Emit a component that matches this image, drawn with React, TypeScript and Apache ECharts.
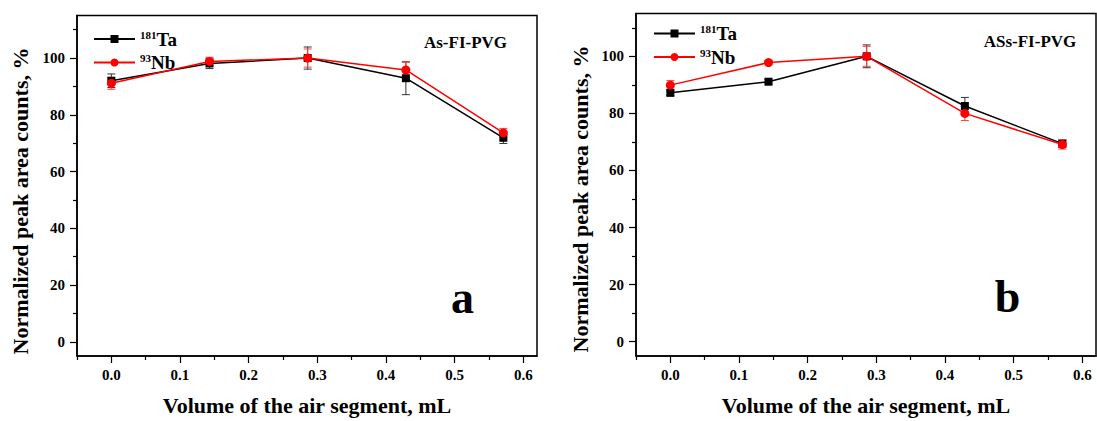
import React, { useEffect, useRef } from "react";
import * as echarts from "echarts";

// ---- data ----
const volumes = [0, 0.143, 0.286, 0.429, 0.571];

const taA = [92.0, 98.1, 100, 92.9, 71.9];
const taAErr = [2.4, 1.8, 3.9, 5.8, 2.0];
const nbA = [91.1, 98.8, 100, 95.8, 73.6];
const nbAErr = [2.1, 1.5, 3.2, 2.7, 1.6];

const taB = [87.2, 91.1, 100, 82.6, 69.4];
const taBErr = [1.0, 0.8, 4.0, 3.0, 1.2];
const nbB = [89.9, 97.8, 100, 80.0, 69.1];
const nbBErr = [1.6, 0.8, 3.5, 2.5, 1.6];

const xMajorTicks = [0, 0.1, 0.2, 0.3, 0.4, 0.5, 0.6];
const xMinorTicks = [-0.05, 0.05, 0.15, 0.25, 0.35, 0.45, 0.55];
const yMajorTicks = [0, 20, 40, 60, 80, 100];
const yMinorTicks = [10, 30, 50, 70, 90, 110];

const panelTitles = ["As-FI-PVG", "ASs-FI-PVG"];
const panelLetters = ["a", "b"];
const xName = "Volume of the air segment, mL";
const yName = "Normalized peak area counts, %";

const FONT = '"Liberation Serif", "Times New Roman", serif';

function errorSeries(name: string, ys: number[], errs: number[], color: string, ai: number) {
  return {
    type: "custom",
    name,
    xAxisIndex: ai,
    yAxisIndex: ai,
    silent: true,
    data: volumes.map((v, i) => [v, ys[i] - errs[i], ys[i] + errs[i]]),
    encode: { x: 0, y: [1, 2] },
    renderItem: (params: any, api: any) => {
      const x = api.value(0);
      const p1 = api.coord([x, api.value(2)]);
      const p2 = api.coord([x, api.value(1)]);
      const hw = 4;
      const style = { stroke: color, lineWidth: 1, fill: "none" };
      return {
        type: "group",
        children: [
          { type: "line", shape: { x1: p1[0], y1: p1[1], x2: p2[0], y2: p2[1] }, style },
          { type: "line", shape: { x1: p1[0] - hw, y1: p1[1], x2: p1[0] + hw, y2: p1[1] }, style },
          { type: "line", shape: { x1: p2[0] - hw, y1: p2[1], x2: p2[0] + hw, y2: p2[1] }, style },
        ],
      };
    },
  };
}

function lineSeries(name: string, ys: number[], color: string, symbol: string, size: number, ai: number) {
  return {
    type: "line",
    name,
    xAxisIndex: ai,
    yAxisIndex: ai,
    data: volumes.map((v, i) => [v, ys[i]]),
    symbol,
    symbolSize: size,
    itemStyle: { color },
    lineStyle: { color, width: 1.5 },
  };
}

export default function App() {
  const ref = useRef<HTMLDivElement>(null);

  useEffect(() => {
    document.body.style.margin = "0";
    if (!ref.current) return;
    const chart = echarts.init(ref.current, undefined, { renderer: "svg" });

    const grids = [
      { left: 77, top: 15.5, width: 460, height: 343 },
      { left: 636, top: 13.5, width: 460, height: 343 },
    ];

    const labelStyle = { fontFamily: FONT, fontWeight: "bold", fontSize: 15, color: "#000" };

    const majorX = (gi: number) => ({
      type: "value",
      gridIndex: gi,
      position: "bottom",
      min: -0.05,
      max: 0.62,
      name: xName,
      nameLocation: "middle",
      nameGap: 38,
      nameTextStyle: { fontFamily: FONT, fontWeight: "bold", fontSize: 22, color: "#000" },
      axisLine: { show: true, onZero: false, lineStyle: { color: "#000", width: 1.5 } },
      axisTick: { show: true, inside: false, length: 7, customValues: xMajorTicks, lineStyle: { color: "#000", width: 1.2 } },
      axisLabel: {
        ...labelStyle,
        customValues: xMajorTicks,
        formatter: (v: number) => v.toFixed(1),
        margin: 11,
      },
      splitLine: { show: false },
    });
    const minorX = (gi: number) => ({
      type: "value",
      gridIndex: gi,
      position: "bottom",
      min: -0.05,
      max: 0.62,
      axisLine: { show: false, onZero: false },
      axisTick: { show: true, inside: false, length: 4, customValues: xMinorTicks, lineStyle: { color: "#000", width: 1.2 } },
      axisLabel: { show: false },
      splitLine: { show: false },
    });
    const majorY = (gi: number) => ({
      type: "value",
      gridIndex: gi,
      position: "left",
      min: -5,
      max: 115,
      axisLine: { show: true, onZero: false, lineStyle: { color: "#000", width: 1.5 } },
      axisTick: { show: true, inside: false, length: 7, customValues: yMajorTicks, lineStyle: { color: "#000", width: 1.2 } },
      axisLabel: {
        ...labelStyle,
        customValues: yMajorTicks,
        formatter: (v: number) => String(v),
        margin: 12,
      },
      splitLine: { show: false },
    });
    const minorY = (gi: number) => ({
      type: "value",
      gridIndex: gi,
      position: "left",
      min: -5,
      max: 115,
      axisLine: { show: false, onZero: false },
      axisTick: { show: true, inside: false, length: 4, customValues: yMinorTicks, lineStyle: { color: "#000", width: 1.2 } },
      axisLabel: { show: false },
      splitLine: { show: false },
    });

    const legendText = (name: string) =>
      name === "Ta" ? "{sup|181}{main|Ta}" : "{sup|93}{main|Nb}";
    const legendRich = {
      sup: { fontFamily: FONT, fontWeight: "bold", fontSize: 11, color: "#000", verticalAlign: "top", lineHeight: 11 },
      main: { fontFamily: FONT, fontWeight: "bold", fontSize: 19, color: "#000", lineHeight: 20 },
    };
    const legend = (left: number, top: number) => ({
      left,
      top,
      orient: "vertical",
      padding: 0,
      itemWidth: 41,
      itemHeight: 10,
      itemGap: 4,
      selectedMode: false,
      data: ["Ta", "Nb"],
      formatter: legendText,
      textStyle: { rich: legendRich },
    });

    const textEl = (text: string, x: number, y: number, size: number, align = "center", rotation = 0) => ({
      type: "text",
      x,
      y,
      rotation,
      silent: true,
      style: {
        text,
        fill: "#000",
        font: `bold ${size}px ${FONT}`,
        textAlign: align,
        textVerticalAlign: "middle",
      },
    });

    chart.setOption({
      animation: false,
      backgroundColor: "#fff",
      grid: grids.map((g) => ({ ...g, show: true, borderColor: "#000", borderWidth: 1.5, backgroundColor: "transparent" })),
      xAxis: [majorX(0), minorX(0), majorX(1), minorX(1)],
      yAxis: [majorY(0), minorY(0), majorY(1), minorY(1)],
      legend: [legend(93, 29), legend(653, 23.5)],
      series: [
        errorSeries("Ta err a", taA, taAErr, "#333", 0),
        lineSeries("Ta", taA, "#000", "rect", 8, 0),
        errorSeries("Nb err a", nbA, nbAErr, "#ff4040", 0),
        lineSeries("Nb", nbA, "#ff0000", "circle", 9, 0),
        errorSeries("Ta err b", taB, taBErr, "#333", 2),
        lineSeries("Ta", taB, "#000", "rect", 8, 2),
        errorSeries("Nb err b", nbB, nbBErr, "#ff4040", 2),
        lineSeries("Nb", nbB, "#ff0000", "circle", 9, 2),
      ],
      graphic: [
        textEl(panelTitles[0], 465.5, 42.5, 17),
        textEl(panelTitles[1], 1030, 41.5, 17),
        textEl(panelLetters[0], 462.5, 297, 46),
        textEl(panelLetters[1], 1007.5, 296, 46),
        textEl(yName, 20, 201, 22, "center", Math.PI / 2),
        textEl(yName, 580, 199, 22, "center", Math.PI / 2),
      ],
    });

    return () => chart.dispose();
  }, []);

  return <div ref={ref} style={{ width: 1097, height: 421 }} />;
}
